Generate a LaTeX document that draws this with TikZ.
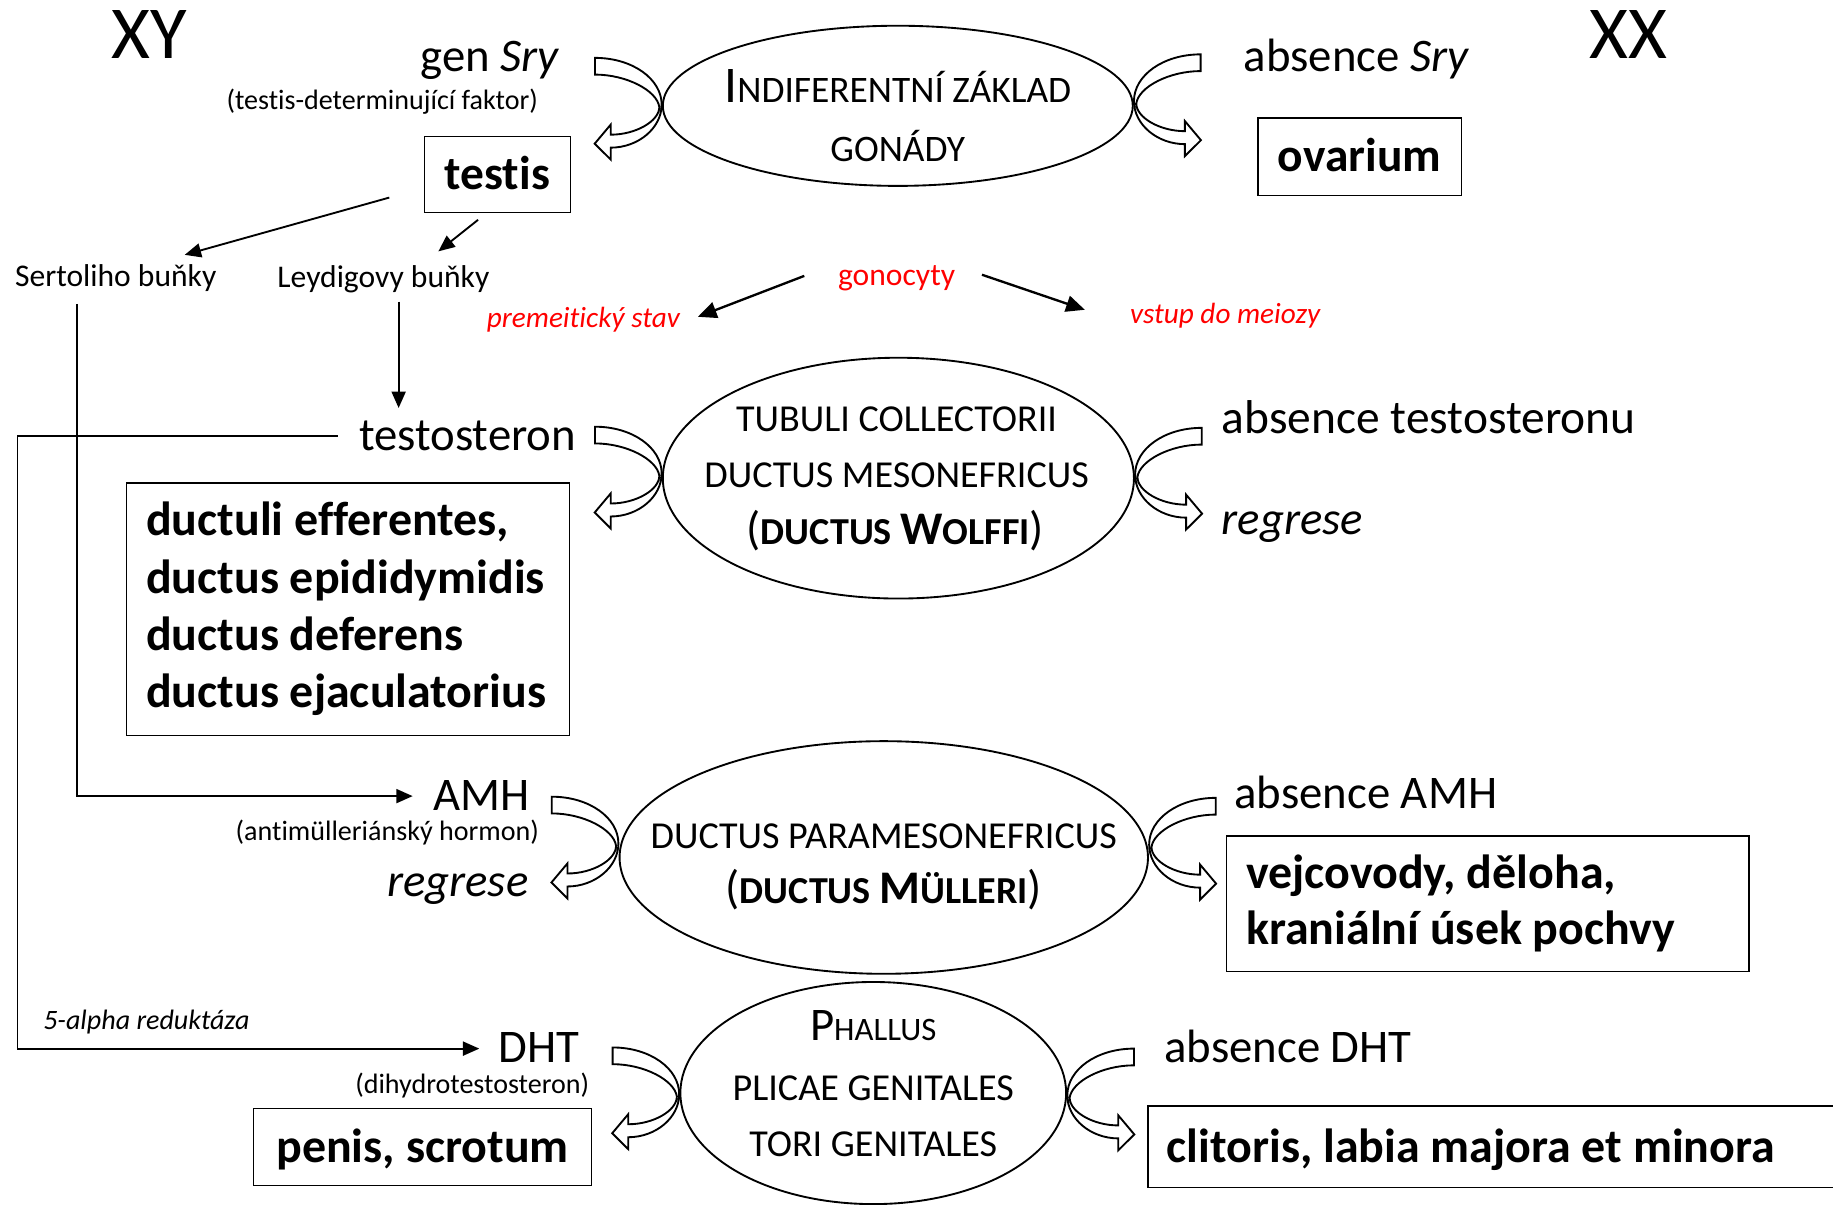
\documentclass[tikz,border=0pt]{standalone}
\usepackage{fontspec}
\setmainfont{Carlito}[Ligatures=NoCommon]
\usetikzlibrary{shapes.geometric,arrows.meta,calc}
\definecolor{myred}{RGB}{255,0,0}
\newcommand\fs[1]{\fontsize{#1}{#1}\selectfont}
\tikzset{
  carrow/.pic={
    \draw[line width=0.8pt, fill=white, line join=miter]
      (-57,-40) .. controls (-25,-40) and (0,-22) .. (0,0)
      .. controls (0,20) and (-20,36.8) .. (-43.6,36.8)
      -- (-43.6,47) -- (-57.3,33.4) -- (-43.6,17.1) -- (-43.6,25.7)
      .. controls (-22,25.7) and (-2,14) .. (-2,2)
      .. controls (-4,-12) and (-30,-25.7) .. (-57,-25.7) -- cycle;
  }
}
\begin{document}
\begin{tikzpicture}[x=0.5pt,y=-0.5pt,
  every node/.style={inner sep=0pt, outer sep=0pt},
  conn/.style={line width=0.8pt},
  arr/.style={conn, -{Triangle[length=7pt,width=6pt]}},
  garr/.style={line width=1pt, -{Triangle[length=8pt,width=7pt]}},
  box/.style={draw, line width=0.6pt},
  ell/.style={ellipse, draw, line width=0.8pt},
  rtxt/.style={text=myred}
]
\useasboundingbox (0,0) rectangle (1568,1030);
\fill[white] (0,0) rectangle (1568,1030);
\clip (0,0) rectangle (1568,1030);

% ellipses
\node[ell, minimum width=201pt, minimum height=68.5pt] (E1) at (768,90.5) {};
\node[ell, minimum width=201.5pt, minimum height=103pt] (E2) at (768.5,409) {};
\node[ell, minimum width=226pt, minimum height=99.5pt] (E3) at (756,733.5) {};
\node[ell, minimum width=165pt, minimum height=95pt] (E4) at (747,935) {};

% ellipse texts
\node[anchor=base] (e1a) at (768,88) {{\fs{22}I}{\fs{16}NDIFERENTNÍ ZÁKLAD}};
\node[anchor=base] (e1b) at (768,138) {\fs{16}GONÁDY};
\node[anchor=base] (e2a) at (767,369) {\fs{16.3}TUBULI COLLECTORII};
\node[anchor=base] (e2b) at (767,417) {\fs{16.3}DUCTUS MESONEFRICUS};
\node[anchor=base] (e2c) at (766,466) {{\fs{20}(}{\bfseries\fs{16.3}DUCTUS {\fs{20}W}OLFFI}{\fs{20})}};
\node[anchor=base] (e3a) at (756,726) {\fs{16.3}DUCTUS PARAMESONEFRICUS};
\node[anchor=base] (e3b) at (756,773) {{\fs{20}(}{\bfseries\fs{16.3}DUCTUS {\fs{20}M}ÜLLERI}{\fs{20})}};
\node[anchor=base] (e4a) at (747,890) {{\fs{20}P}{\fs{14}HALLUS}};
\node[anchor=base] (e4b) at (747,941) {\fs{16.3}PLICAE GENITALES};
\node[anchor=base] (e4c) at (747,989) {\fs{16.3}TORI GENITALES};

% curved arrows
\pic at ($(E1.west)+(-1,-1)$) {carrow};
\pic at ($(E2.west)+(-1,-4)$) {carrow};
\pic at ($(E3.west)+(-1,-12)$) {carrow};
\pic at ($(E4.west)+(-1,1)$) {carrow};
\pic[xscale=-1] at ($(E1.east)+(1,-4)$) {carrow};
\pic[xscale=-1] at ($(E2.east)+(1,-3)$) {carrow};
\pic[xscale=-1] at ($(E3.east)+(1,-11)$) {carrow};
\pic[xscale=-1] at ($(E4.east)+(1,2)$) {carrow};

% headings
\node[anchor=base, font=\fs{32}] (xy) at (128,50) {XY};
\node[anchor=base, font=\fs{32}] (xx) at (1393,50) {XX};
\node[anchor=base east, font=\fs{20}] (gen) at (479,61) {gen \textit{Sry}};
\node[anchor=base, font=\fs{12}] (tdf) at (327,94) {(testis-determinující faktor)};
\node[anchor=base west, font=\fs{20}] (absry) at (1064,61) {absence \textit{Sry}};
\node[box, minimum width=62.5pt, minimum height=32.5pt, text height=13pt, text depth=0pt, font=\fs{20.3}\bfseries] (testis) at (425.5,149.5) {testis};
\node[box, minimum width=87pt, minimum height=33pt, text height=13pt, text depth=0pt, font=\fs{20.3}\bfseries] (ovar) at (1163,134) {ovarium};

\node[anchor=base, font=\fs{13.5}] (sert) at (99,245) {Sertoliho buňky};
\node[anchor=base, font=\fs{13.5}] (leyd) at (328,246) {Leydigovy buňky};
\node[anchor=base, font=\fs{13.5}, rtxt] (gono) at (767,244) {gonocyty};
\node[anchor=base, font=\fs{12.5}\itshape, rtxt] (prem) at (499,280) {premeitický stav};
\node[anchor=base, font=\fs{12.5}\itshape, rtxt] (vstup) at (1048,277) {vstup do meiozy};

\node[anchor=base, font=\fs{20}] (testo) at (400,385) {testosteron};
\node[anchor=base west, font=\fs{20.3}] (abtesto) at (1045,371) {absence testosteronu};
\node[anchor=base west, font=\fs{20}\itshape] (reg1) at (1045,457) {regrese};
\node[box, inner xsep=8.5pt, text width=172.5pt, minimum height=108pt, align=flush left,
      font=\fontsize{20.5}{24.5}\selectfont\bfseries] (duct) at (297.5,521)
  {ductuli efferentes,\\ductus epididymidis\\ductus deferens\\ductus ejaculatorius};

\node[anchor=base, font=\fs{20}] (amh) at (412,693) {AMH};
\node[anchor=base east, font=\fs{12}] (amhf) at (461,719) {(antimülleriánský hormon)};
\node[anchor=base east, font=\fs{20}\itshape] (reg2) at (452,767) {regrese};
\node[anchor=base west, font=\fs{20}] (abamh) at (1056,692) {absence AMH};
\node[box, inner xsep=8.5pt, text width=206.5pt, minimum height=58pt, align=flush left,
      font=\fontsize{20.5}{24}\selectfont\bfseries] (vejc) at (1272.5,773)
  {vejcovody, děloha,\\kraniální úsek pochvy};

\node[anchor=base west, font=\fs{12}\itshape] (alpha) at (37,881) {5-alpha reduktáza};
\node[anchor=base, font=\fs{20}] (dht) at (461,909) {DHT};
\node[anchor=base east, font=\fs{12}] (dhtf) at (504,935) {(dihydrotestosteron)};
\node[anchor=base west, font=\fs{20}] (abdht) at (996,909) {absence DHT};
\node[box, minimum width=144.5pt, minimum height=33pt, text height=13pt, text depth=0pt, font=\fs{20.5}\bfseries] (penis) at (361.5,981) {penis, scrotum};
\node[box, inner xsep=8pt, text width=283pt, minimum height=35pt, align=flush left, text height=13pt, text depth=0pt, font=\fs{20.5}\bfseries] (clit) at (1281,981) {clitoris, labia majora et minora};

% connectors
\coordinate (t1) at (333,169);
\coordinate (s1) at (158,218);
\coordinate (t2) at (409,188);
\coordinate (l1) at (375,215);
\coordinate (l2) at (341,258);
\coordinate (te1) at (341,349);
\coordinate (s2) at (66,260);
\coordinate (am1) at (353,681);
\coordinate (te2) at (289,373);
\coordinate (dh1) at (410,897);
\coordinate (g1) at (688,236);
\coordinate (p1) at (597,271);
\coordinate (g2) at (840,235);
\coordinate (v1) at (928,265);

\draw[arr] (t1) -- (s1);
\draw[arr] (t2) -- (l1);
\draw[arr] (l2) -- (te1);
\draw[arr] (s2) |- (am1);
\draw[arr] (te2) -| (15,897) -- (dh1);
\draw[garr] (g1) -- (p1);
\draw[garr] (g2) -- (v1);
\end{tikzpicture}
\end{document}
